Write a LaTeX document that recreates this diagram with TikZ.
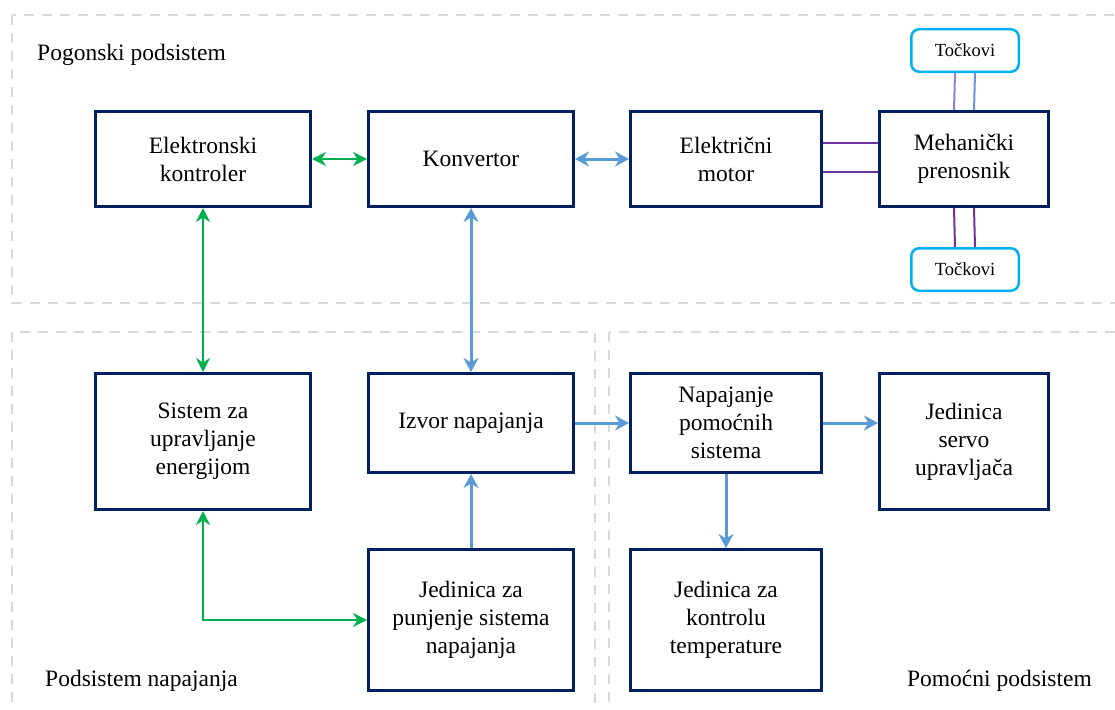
\documentclass[tikz,border=0pt]{standalone}
\usepackage{fontspec}
\setmainfont{Liberation Serif}
\usetikzlibrary{arrows.meta,calc}
\definecolor{navy}{RGB}{0,32,96}
\definecolor{cyanw}{RGB}{0,176,240}
\definecolor{blarr}{RGB}{91,155,213}
\definecolor{grarr}{RGB}{0,176,80}
\definecolor{purp}{RGB}{112,48,160}
\definecolor{lav}{RGB}{140,130,215}
\definecolor{lblue}{RGB}{110,145,220}
\definecolor{dgray}{RGB}{217,217,217}
\begin{document}
\begin{tikzpicture}[x=1pt,y=-1pt,
  box/.style={draw=navy,line width=3pt,inner sep=0pt,align=center,
    font=\fontsize{23.5}{28}\selectfont},
  wheel/.style={draw=cyanw,line width=2.5pt,rounded corners=8pt,inner sep=0pt,
    minimum width=107.5pt,minimum height=42.5pt,font=\fontsize{18.5}{22}\selectfont},
  region/.style={draw=dgray,line width=2.2pt,dash pattern=on 10pt off 8pt},
  barrow/.style={draw=blarr,line width=3pt,arrows={-Stealth[length=14pt,width=15pt,inset=4.5pt]}},
  bdarrow/.style={draw=blarr,line width=3pt,arrows={Stealth[length=14pt,width=15pt,inset=4.5pt]-Stealth[length=14pt,width=15pt,inset=4.5pt]}},
  gdarrow/.style={draw=grarr,line width=2pt,arrows={Stealth[length=14pt,width=14pt,inset=4.5pt]-Stealth[length=14pt,width=14pt,inset=4.5pt]}},
  link/.style={line width=2pt},
  lbl/.style={font=\fontsize{23.5}{28}\selectfont,inner sep=0pt}
]
\useasboundingbox (0,0) rectangle (1115,709);
\clip (0,0) rectangle (1115,709);
% regions
\draw[region] (12,15) rectangle (1130,303);
\draw[region] (12,332) rectangle (595,730);
\draw[region] (609,332) rectangle (1130,730);
\node[lbl,anchor=base west] (l1) at (37,60) {Pogonski podsistem};
\node[lbl,anchor=base west] (l2) at (45,686) {Podsistem napajanja};
\node[lbl,anchor=base east] (l3) at (1092,686) {Pomoćni podsistem};
% boxes
\node[box,minimum width=215pt,minimum height=95pt] (ek) at (203,159) {Elektronski\\kontroler};
\node[box,minimum width=205pt,minimum height=95pt] (konv) at (471,159) {Konvertor};
\node[box,minimum width=191pt,minimum height=95pt] (motor) at (726,159) {Električni\\motor};
\node[box,minimum width=169pt,minimum height=95pt] (meh) at (964,159) {Mehanički\\prenosnik};
\node[box,minimum width=215pt,minimum height=136pt] (sis) at (203,441.5) {Sistem za\\upravljanje\\energijom};
\node[box,minimum width=205pt,minimum height=99pt] (izv) at (471,423) {Izvor napajanja};
\node[box,minimum width=191pt,minimum height=99pt] (nap) at (726,423) {Napajanje\\pomoćnih\\sistema};
\node[box,minimum width=169pt,minimum height=136pt] (servo) at (964,441.5) {Jedinica\\servo\\upravljača};
\node[box,minimum width=205pt,minimum height=141pt] (pun) at (471,620) {Jedinica za\\punjenje sistema\\napajanja};
\node[box,minimum width=191pt,minimum height=141pt] (temp) at (726,620) {Jedinica za\\kontrolu\\temperature};
\node[wheel] (w1) at (965,50.5) {Točkovi};
\node[wheel] (w2) at (965,269.5) {Točkovi};
% mechanical links
\draw[link,lav] ([xshift=-10pt]w1.south) -- ([xshift=-10pt]meh.north);
\draw[link,lblue] ([xshift=10pt]w1.south) -- ([xshift=10pt]meh.north);
\draw[link,purp] ([xshift=-10pt]meh.south) -- ([xshift=-10pt]w2.north);
\draw[link,purp] ([xshift=10pt]meh.south) -- ([xshift=10pt]w2.north);
\draw[link,purp] ([yshift=16pt]motor.east) -- ([yshift=16pt]meh.west);
\draw[link,purp] ([yshift=-13pt]motor.east) -- ([yshift=-13pt]meh.west);
% arrows
\draw[gdarrow] (ek.east) -- (konv.west);
\draw[bdarrow] (konv.east) -- (motor.west);
\draw[gdarrow] (ek.south) -- (sis.north);
\draw[bdarrow] (konv.south) -- (izv.north);
\draw[barrow] (izv.east) -- (nap.west);
\draw[barrow] (nap.east) -- (nap.east -| servo.west);
\draw[barrow] (nap.south) -- (temp.north);
\draw[barrow] (pun.north) -- (izv.south);
\draw[gdarrow] (sis.south) |- (pun.west);
\end{tikzpicture}
\end{document}
